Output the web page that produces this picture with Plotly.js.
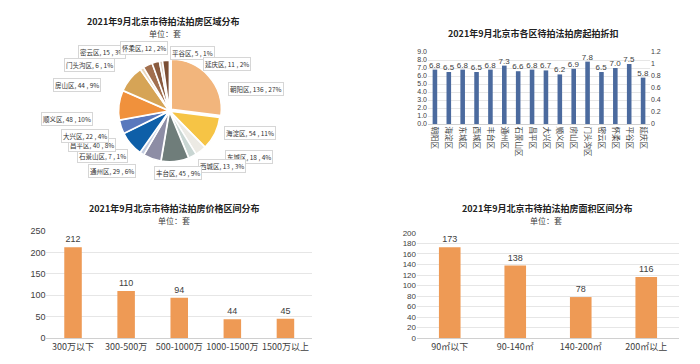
<!DOCTYPE html>
<html><head><meta charset="utf-8">
<script src="https://cdn.plot.ly/plotly-3.0.1.min.js"></script>
<style>html,body{margin:0;padding:0;background:#fff}#c{width:700px;height:364px}</style>
</head><body><div id="c"></div>
<script>
// Pie: district distribution
const districts = ['朝阳区','海淀区','东城区','西城区','丰台区','通州区','石景山区','昌平区','大兴区','顺义区','房山区','门头沟区','密云区','怀柔区','平谷区','延庆区'];
const districtCounts = [136,54,18,13,45,29,7,40,22,48,44,6,15,12,5,11];
// Discount by district
const discountDistricts = ['朝阳区','海淀区','东城区','西城区','丰台区','通州区','石景山区','昌平区','大兴区','顺义区','房山区','门头沟区','密云区','怀柔区','平谷区','延庆区'];
const discounts = [6.8,6.5,6.8,6.5,6.8,7.3,6.6,6.8,6.7,6.2,6.9,7.8,6.5,7.0,7.5,5.8];
// Price range
const priceRanges = ['300万以下','300-500万','500-1000万','1000-1500万','1500万以上'];
const priceCounts = [212,110,94,44,45];
// Area range
const areaRanges = ['90㎡以下','90-140㎡','140-200㎡','200㎡以上'];
const areaCounts = [173,138,78,116];

// styling (kept separate from data)
const districtColors = ['#F2B57C','#F6C445','#ECEAE4','#C9D6D3','#6F7D7A','#8D8DA5','#C3CCE0','#0E5FA8','#5978BD','#F0913C','#D6A456','#EAD7BD','#A26F4E','#8A5B3F','#D8C8B8','#7B4E34'];
// pie label box centres (px), placed as in the reference
const pieLabelX = [256,250,249,222,178,112,102,92,85,67,77,90,102,144,192,227];
const pieLabelY = [89,133,157,166,173,171,156,145,136,119,85,65,52,48,53,64];

const F = '"Noto Sans CJK SC", "Noto Sans", sans-serif';
const NUM = '"Liberation Sans", Arial, sans-serif';
const tickFont = {family:NUM, size:9, color:'#404040'};
const smallTick = {family:NUM, size:7, color:'#404040'};
const orange = '#EE9A55';

const data = [
  {type:'pie', labels:districts, values:districtCounts, sort:false, direction:'clockwise', rotation:0,
   marker:{colors:districtColors, line:{color:'#fff', width:1.5}},
   pull: districts.map((d,i)=> i===0?0.05:0.015),
   textinfo:'none',
   domain:{x:[0.167,0.317], y:[0.55,0.84]}, showlegend:false, hoverinfo:'skip'},
  {type:'bar', x:discountDistricts, y:discounts, xaxis:'x', yaxis:'y',
   marker:{color:'#4B6A9E'}, text:discounts.map(v=>v.toFixed(1)), textposition:'outside', constraintext:'none',
   textfont:{family:NUM, size:8, color:'#404040'}, cliponaxis:false, showlegend:false, hoverinfo:'skip'},
  {type:'scatter', x:discountDistricts, y:discountDistricts.map(()=>null), xaxis:'x', yaxis:'y2', mode:'none',
   showlegend:false, hoverinfo:'skip'},
  {type:'bar', x:priceRanges, y:priceCounts, xaxis:'x3', yaxis:'y3',
   marker:{color:orange}, text:priceCounts.map(String), textposition:'outside', constraintext:'none',
   textfont:{family:NUM, size:9, color:'#404040'}, cliponaxis:false, showlegend:false, hoverinfo:'skip'},
  {type:'bar', x:areaRanges, y:areaCounts, xaxis:'x4', yaxis:'y4',
   marker:{color:orange}, text:areaCounts.map(String), textposition:'outside', constraintext:'none',
   textfont:{family:NUM, size:9, color:'#404040'}, cliponaxis:false, showlegend:false, hoverinfo:'skip'}
];

const grid = '#E6E6E6';
function ann(t, x, y, size, bold){
  return {text: bold?'<b>'+t+'</b>':t, x:x/700, y:1-y/364, xref:'paper', yref:'paper', xanchor:'center', yanchor:'middle',
          showarrow:false, font:{family:F, size:size, color: bold?'#222':'#404040'}};
}
const total = districtCounts.reduce((a,b)=>a+b,0);
const pieAnns = districts.map((d,i)=>({
  text: d+', '+districtCounts[i]+' , '+Math.round(districtCounts[i]/total*100)+'%',
  x:pieLabelX[i]/700, y:1-pieLabelY[i]/364, xref:'paper', yref:'paper', xanchor:'center', yanchor:'middle',
  showarrow:false, font:{family:F, size:6.5, color:'#333'}, bgcolor:'#fff', bordercolor:'#D6D6D6', borderwidth:1, borderpad:1
}));
const layout = {
  width:700, height:364, margin:{l:0,r:0,t:0,b:0}, paper_bgcolor:'#fff', plot_bgcolor:'rgba(0,0,0,0)',
  font:{family:F, size:9, color:'#404040'},
  bargap:0.67,
  xaxis:{domain:[0.6114,0.9286], anchor:'y', tickangle:90, tickfont:{family:F,size:7.5,color:'#404040'}, showline:true, linecolor:'#D0D0D0', ticks:''},
  yaxis:{domain:[0.6593,0.8571], anchor:'x', range:[0,9], dtick:1, tickformat:'.1f', gridcolor:grid, zeroline:false, tickfont:smallTick, ticks:''},
  yaxis2:{overlaying:'y', side:'right', anchor:'x', range:[0,1.2], dtick:0.2, showgrid:false, zeroline:false, tickfont:smallTick, ticks:''},
  xaxis3:{domain:[0.0664,0.4457], anchor:'y3', tickfont:{family:F,size:9,color:'#404040'}, showline:true, linecolor:'#D0D0D0', ticks:''},
  yaxis3:{domain:[0.0714,0.3654], anchor:'x3', range:[0,250], dtick:50, gridcolor:grid, zeroline:false, tickfont:tickFont, ticks:''},
  xaxis4:{domain:[0.5957,0.97], anchor:'y4', tickfont:{family:F,size:9,color:'#404040'}, showline:true, linecolor:'#D0D0D0', ticks:''},
  yaxis4:{domain:[0.0714,0.3599], anchor:'x4', range:[0,200], dtick:20, gridcolor:grid, zeroline:false, tickfont:{family:NUM,size:8,color:'#404040'}, ticks:''},
  annotations:[
    ann('2021年9月北京市待拍法拍房区域分布', 163, 21, 9, true),
    ann('单位：套', 165, 33, 8, false),
    ann('2021年9月北京市各区待拍法拍房起拍折扣', 533, 33, 9, true),
    ann('2021年9月北京市待拍法拍房价格区间分布', 174, 208, 9, true),
    ann('单位：套', 174, 221, 8, false),
    ann('2021年9月北京市待拍法拍房面积区间分布', 547, 208, 9, true),
    ann('单位：套', 546, 221, 8, false)
  ].concat(pieAnns)
};
Plotly.newPlot('c', data, layout, {staticPlot:true});
</script></body></html>
